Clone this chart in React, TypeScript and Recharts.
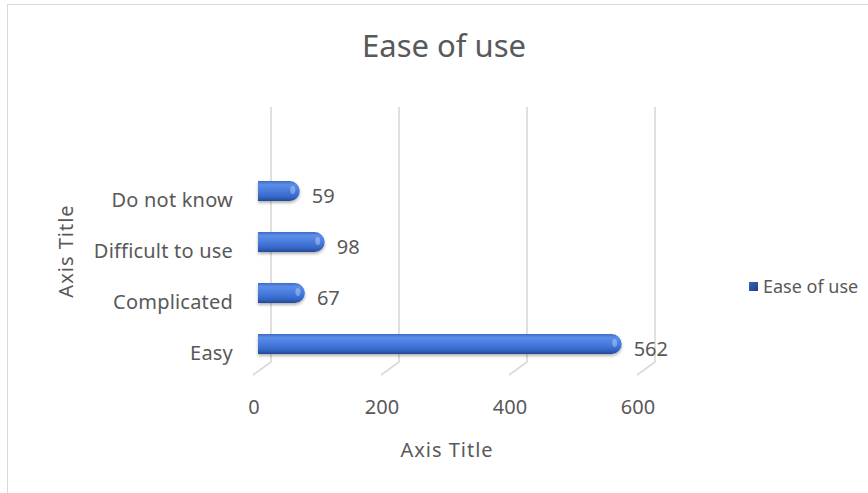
import { Bar, BarChart, CartesianGrid, LabelList, Legend, XAxis, YAxis } from "recharts";

const categories = ["Do not know", "Difficult to use", "Complicated", "Easy"];
const easeOfUse = [59, 98, 67, 562];
const xTicks = [0, 200, 400, 600];

const data = categories.map((name, i) => ({ name, value: easeOfUse[i] }));

const FONT = "'Noto Sans', 'Open Sans', sans-serif";
const TEXT = "#595959";
const GRID = "#d9d9d9";

// 3D-ish grid line: back wall, then slanted floor edge toward the viewer
function GridLine(props: any) {
  const { x1, y1, y2, index } = props;
  const points = `${x1 + 9},${y1} ${x1 + 9},${y2 - 7} ${x1 - 9},${y2 + 6}`;
  return (
    <polyline
      key={`g-${index}`}
      points={points}
      fill="none"
      stroke={GRID}
      strokeWidth={1.6}
    />
  );
}

function Cylinder(props: any) {
  const { x, y, width, height } = props;
  const r = height / 2;
  const x0 = x - 4;
  const x1 = x + width;
  const d = `M${x0},${y} H${x1 - r} A${r},${r} 0 0 1 ${x1 - r},${y + height} H${x0} Z`;
  return (
    <g filter="url(#barShadow)">
      <path d={d} fill="url(#cyl)" />
      <ellipse
        cx={x1 - r * 0.7}
        cy={y + height * 0.45}
        rx={2.5}
        ry={4}
        fill="#ffffff"
        opacity={0.3}
      />
    </g>
  );
}

function XTick(props: any) {
  const { x, y, payload } = props;
  return (
    <text
      x={x - 8}
      y={y + 37}
      textAnchor="middle"
      fill={TEXT}
      fontSize={20}
      fontFamily={FONT}
    >
      {payload.value}
    </text>
  );
}

function YTick(props: any) {
  const { x, y, payload } = props;
  return (
    <text
      x={x - 21}
      y={y + 16}
      textAnchor="end"
      fill={TEXT}
      fontSize={20}
      fontFamily={FONT}
      letterSpacing={0.2}
    >
      {payload.value}
    </text>
  );
}

function ValueLabel(props: any) {
  const { x, y, width, height, value } = props;
  return (
    <text
      x={x + width + 12}
      y={y + height / 2 + 11.5}
      fill={TEXT}
      fontSize={20}
      fontFamily={FONT}
    >
      {value}
    </text>
  );
}

function LegendBox() {
  return (
    <div
      style={{
        display: "flex",
        alignItems: "center",
        gap: 5,
        fontFamily: FONT,
        fontSize: 18,
        color: TEXT,
        whiteSpace: "nowrap",
      }}
    >
      <span
        style={{
          display: "inline-block",
          width: 9,
          height: 9,
          background: "linear-gradient(135deg, #3a64b8, #1f3f86)",
        }}
      />
      <span>Ease of use</span>
    </div>
  );
}

export default function App() {
  return (
    <div
      style={{
        position: "absolute",
        left: 0,
        top: 0,
        width: 868,
        height: 493,
        overflow: "hidden",
        background: "#fff",
      }}
    >
      <div
        style={{
          position: "absolute",
          left: 7,
          top: 4,
          width: 900,
          height: 600,
          border: `1px solid ${GRID}`,
        }}
      />
      <div
        style={{
          position: "absolute",
          left: 0,
          top: 30,
          width: 888,
          textAlign: "center",
          fontFamily: FONT,
          fontSize: 31,
          lineHeight: 1,
          color: TEXT,
        }}
      >
        Ease of use
      </div>
      <svg
        width={120}
        height={493}
        style={{ position: "absolute", left: 0, top: 0 }}
      >
        <text
          x={73}
          y={251}
          transform="rotate(-90 73 251)"
          textAnchor="middle"
          fill={TEXT}
          fontSize={20}
          fontFamily={FONT}
          letterSpacing={1}
        >
          Axis Title
        </text>
      </svg>
      <div style={{ position: "absolute", left: 0, top: 0 }}>
        <BarChart
          width={868}
          height={493}
          data={data}
          layout="vertical"
          margin={{ top: 107, right: 222, bottom: 94, left: 20 }}
        >
          <defs>
            <linearGradient id="cyl" x1="0" y1="0" x2="0" y2="1">
              <stop offset="0%" stopColor="#3f6cc4" />
              <stop offset="18%" stopColor="#5b8ee8" />
              <stop offset="45%" stopColor="#4a7fdf" />
              <stop offset="80%" stopColor="#3566c8" />
              <stop offset="100%" stopColor="#244893" />
            </linearGradient>
            <filter id="barShadow" x="-10%" y="-30%" width="130%" height="180%">
              <feDropShadow dx="0" dy="2" stdDeviation="1.5" floodColor="#000" floodOpacity="0.3" />
            </filter>
          </defs>
          <CartesianGrid horizontal={false} vertical={GridLine} />
          <XAxis
            type="number"
            domain={[0, 600]}
            ticks={xTicks}
            axisLine={false}
            tickLine={false}
            height={30}
            tick={XTick}
            label={({ viewBox }: any) => (
              <text
                x={viewBox.x + viewBox.width / 2 - 7}
                y={457}
                textAnchor="middle"
                fill={TEXT}
                fontSize={20}
                fontFamily={FONT}
                letterSpacing={1}
              >
                Axis Title
              </text>
            )}
          />
          <YAxis
            type="category"
            dataKey="name"
            axisLine={false}
            tickLine={false}
            width={242}
            padding={{ top: 58, bottom: 0 }}
            tick={YTick}
          />
          <Legend
            layout="horizontal"
            align="center"
            verticalAlign="middle"
            content={LegendBox}
            wrapperStyle={{ position: "absolute", left: 749, top: 274, width: 120 }}
          />
          <Bar
            dataKey="value"
            name="Ease of use"
            barSize={20}
            shape={Cylinder}
            isAnimationActive={false}
          >
            <LabelList dataKey="value" content={ValueLabel} />
          </Bar>
        </BarChart>
      </div>
    </div>
  );
}
